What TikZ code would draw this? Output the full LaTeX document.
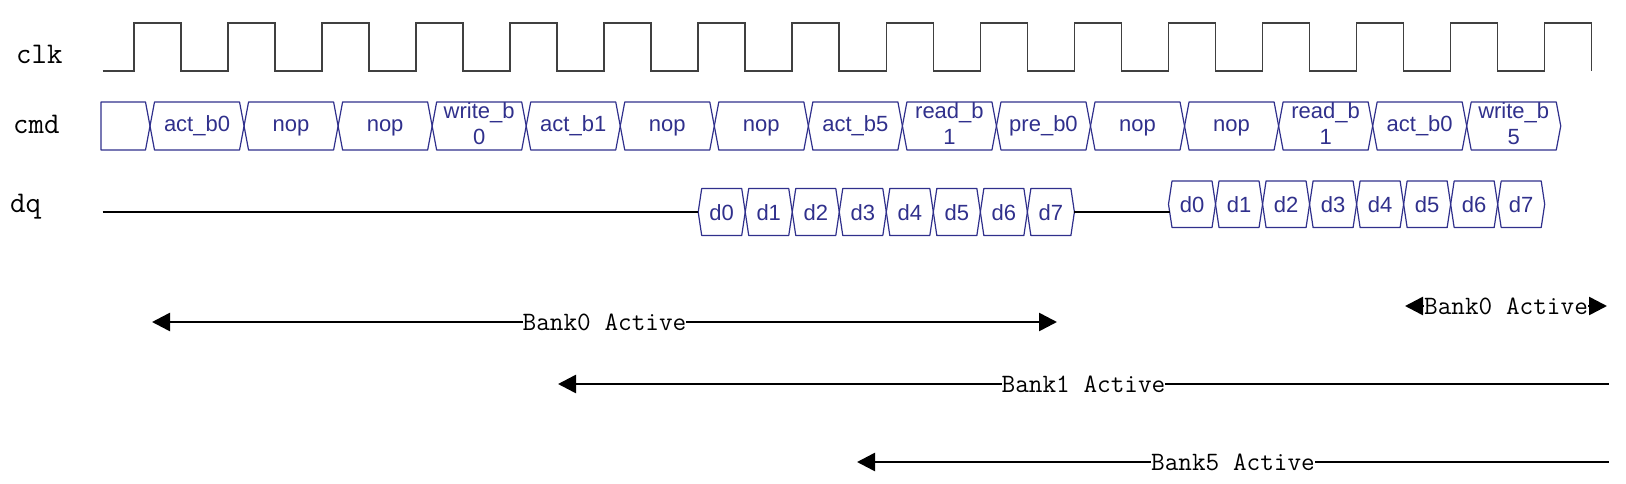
\documentclass[tikz,border=0pt]{standalone}
\usepackage{fontspec}
\newfontfamily\cellfont{Liberation Sans}
\usetikzlibrary{arrows.meta}
\definecolor{wavenavy}{RGB}{48,48,140}

\begin{document}
\begin{tikzpicture}[x=1pt,y=-1pt,
    clock/.style={black!75, line width=1.6pt},
    cell/.style={draw=wavenavy, line width=1.2pt, line join=round},
    celltext/.style={text=wavenavy, font=\cellfont\fontsize{22}{26}\selectfont, inner sep=0pt, text height=16pt, text depth=5pt},
    celltwo/.style={text=wavenavy, font=\cellfont\fontsize{22}{26}\selectfont, inner sep=0pt, align=center, yshift=2.7pt},
    dtext/.style={celltext, text depth=0pt},
    siglabel/.style={font=\ttfamily\fontsize{30}{30}\selectfont, anchor=base west, inner sep=0pt},
    bus/.style={line width=2.6pt},
    span/.style={line width=2.6pt, >={Triangle[length=18pt,width=18pt]}},
    banktext/.style={font=\ttfamily\fontsize{26.5}{26.5}\selectfont, fill=white, inner sep=0pt}]

    \useasboundingbox (0,0) rectangle (1626,483);

    % Signal names
    \node[siglabel] (clk) at (16,63) {clk};
    \node[siglabel] (cmd) at (13,133) {cmd};
    \node[siglabel] (dq) at (10,212) {dq};

    % Draw clock
    \draw[clock] (102.5,71) \foreach \k in {0,...,15} {
        -- ({133.9+94.05*\k},71) -- ++(0,-48) -- ++(47.025,0) -- ++(0,48)};

    % Draw cmd bus
    \draw[cell] (101,102) -- (145.5,102) -- (150,126) -- (145.5,150) -- (101,150) -- cycle;
    \foreach \sty/\txt [count=\k] in {celltext/act\_b0, celltext/nop, celltext/nop,
        celltwo/{write\_b\\0}, celltext/act\_b1, celltext/nop, celltext/nop,
        celltext/act\_b5, celltwo/{read\_b\\1}, celltext/pre\_b0, celltext/nop,
        celltext/nop, celltwo/{read\_b\\1}, celltext/act\_b0, celltwo/{write\_b\\5}} {
        \pgfmathsetmacro{\xl}{150+94.05*(\k-1)}
        \pgfmathsetmacro{\xr}{\xl+94.05}
        \draw[cell] (\xl,126) -- (\xl+4.5,102) -- (\xr-4.5,102) -- (\xr,126)
            -- (\xr-4.5,150) -- (\xl+4.5,150) -- cycle;
        \node[\sty] (cmd\k) at ({(\xl+\xr)/2},126) {\txt};
    }

    % Draw dq bursts
    \foreach \i in {0,...,7} {
        \pgfmathsetmacro{\xl}{698.2+47.025*\i}
        \pgfmathsetmacro{\xr}{\xl+47.025}
        \draw[cell] (\xl,212) -- (\xl+3.5,188.5) -- (\xr-3.5,188.5) -- (\xr,212)
            -- (\xr-3.5,235.5) -- (\xl+3.5,235.5) -- cycle;
        \node[dtext] (dA\i) at ({(\xl+\xr)/2},212) {d\i};
    }
    \foreach \i in {0,...,7} {
        \pgfmathsetmacro{\xl}{1168.5+47.025*\i}
        \pgfmathsetmacro{\xr}{\xl+47.025}
        \draw[cell] (\xl,204.25) -- (\xl+3.5,181) -- (\xr-3.5,181) -- (\xr,204.25)
            -- (\xr-3.5,227.5) -- (\xl+3.5,227.5) -- cycle;
        \node[dtext] (dB\i) at ({(\xl+\xr)/2},204.25) {d\i};
    }

    % dq idle line
    \coordinate (dqstart) at (102.5,212);
    \coordinate (aL) at (698.2,212);
    \coordinate (aR) at (1074.4,212);
    \coordinate (bL) at (1169.5,212);
    \draw[bus] (dqstart) -- (aL);
    \draw[bus] (aR) -- (bL);

    % Bank active spans
    \coordinate (b0s) at (152,322);
    \coordinate (b0e) at (1057,322);
    \coordinate (b0t) at (1405,306);
    \coordinate (b0u) at (1607,306);
    \coordinate (b1s) at (558,384);
    \coordinate (b1e) at (1609,384);
    \coordinate (b5s) at (857,462);
    \coordinate (b5e) at (1609,462);
    \draw[span,<->] (b0s) -- node[banktext] (bank0a) {Bank0 Active} (b0e);
    \draw[span,<->] (b0t) -- node[banktext] (bank0b) {Bank0 Active} (b0u);
    \draw[span,<-] (b1s) -- node[banktext] (bank1) {Bank1 Active} (b1e);
    \draw[span,<-] (b5s) -- node[banktext] (bank5) {Bank5 Active} (b5e);
\end{tikzpicture}
\end{document}
